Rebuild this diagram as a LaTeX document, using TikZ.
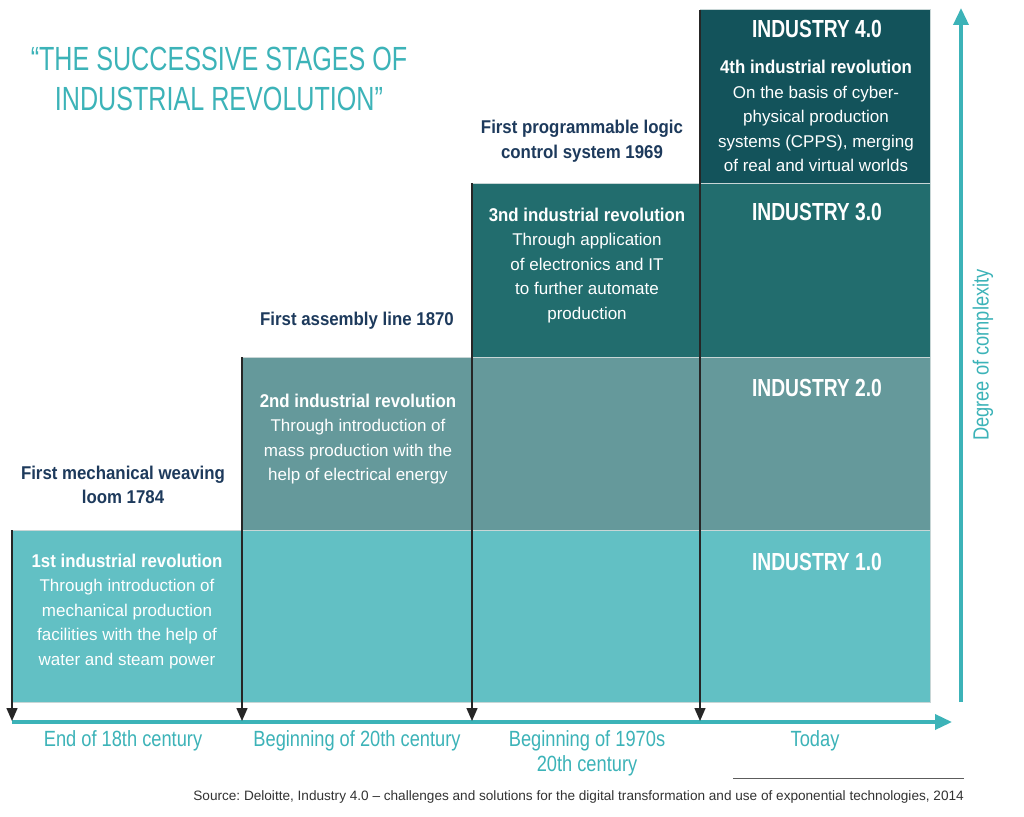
\documentclass[tikz,border=0pt]{standalone}
\usepackage{fontspec}
\setmainfont{Liberation Sans}
\newfontfamily\titlefont[FakeStretch=0.75]{Liberation Sans}
\newfontfamily\indfont[FakeStretch=0.78]{Liberation Sans}
\newfontfamily\headfont[FakeStretch=0.91]{Liberation Sans}
\newfontfamily\axisfont[FakeStretch=0.83]{Liberation Sans}
\usetikzlibrary{arrows.meta}
\definecolor{lvlA}{HTML}{62C0C4}
\definecolor{lvlB}{HTML}{65999B}
\definecolor{lvlC}{HTML}{226D6E}
\definecolor{lvlD}{HTML}{13535B}
\definecolor{bandline}{HTML}{C8D6D6}
\definecolor{teal}{HTML}{3CB3B8}
\definecolor{navy}{HTML}{1D3A5C}
\definecolor{srcgray}{HTML}{333333}
\frenchspacing
\tikzset{
  band/.style={rectangle, draw=bandline, line width=1pt, inner sep=0pt, outer sep=0pt},
  drop/.style={draw=black!85, line width=1.4pt, -{Triangle[width=11pt,length=13pt]}},
  axisarrow/.style={draw=teal, line width=3.5pt, -{Triangle[width=15pt,length=17pt]}},
  indlabel/.style={text=white, font=\indfont\bfseries\fontsize{24.7}{28}\selectfont, inner sep=0pt},
  desc/.style={text=white, align=center, inner sep=0pt, font=\fontsize{17}{24.5}\selectfont},
  milestone/.style={text=navy, align=center, inner sep=0pt, font=\headfont\bfseries\fontsize{18.5}{24.5}\selectfont},
  era/.style={text=teal, align=center, inner sep=0pt, font=\axisfont\fontsize{22}{25}\selectfont},
  titlestyle/.style={text=teal, align=center, inner sep=0pt, font=\titlefont\fontsize{33.5}{40}\selectfont},
}
\newcommand{\hd}[1]{{\headfont\bfseries\fontsize{18.5}{24.5}\selectfont #1}}
\begin{document}
\begin{tikzpicture}[x=1pt,y=-1pt]
\useasboundingbox[fill=white] (0,0) rectangle (1024,816);

% bands
\node[band, fill=lvlA, minimum width=918pt, minimum height=172pt] (b1) at (471,616) {};
\node[band, fill=lvlB, minimum width=688pt, minimum height=173pt] (b2) at (586,443.5) {};
\node[band, fill=lvlC, minimum width=458pt, minimum height=174pt] (b3) at (701,270) {};
\node[band, fill=lvlD, minimum width=230pt, minimum height=173pt] (b4) at (815,96.5) {};

% axes
\coordinate (ax0) at (12,722);
\coordinate (ax1) at (952,722);
\draw[axisarrow] (ax0) -- (ax1);
\coordinate (vy0) at (961,702);
\coordinate (vy1) at (961,8);
\draw[axisarrow] (vy0) -- (vy1);

% drop arrows
\draw[drop] (b1.north west) -- ([yshift=1pt]b1.north west |- ax0);
\draw[drop] (b2.north west) -- ([yshift=1pt]b2.north west |- ax0);
\draw[drop] (b3.north west) -- ([yshift=1pt]b3.north west |- ax0);
\draw[drop] (b4.north west) -- ([yshift=1pt]b4.north west |- ax0);

% title
\node[titlestyle] (title) at (219,79) {“THE SUCCESSIVE STAGES OF\\INDUSTRIAL REVOLUTION”};

% industry labels
\node[indlabel] (i4) at (817,29) {INDUSTRY 4.0};
\node[indlabel] (i3) at (817,212) {INDUSTRY 3.0};
\node[indlabel] (i2) at (817,388) {INDUSTRY 2.0};
\node[indlabel] (i1) at (817,562) {INDUSTRY 1.0};

% descriptions
\node[desc] (d4) at (816,116) {\hd{4th industrial revolution}\\On the basis of cyber-\\physical production\\systems (CPPS), merging\\of real and virtual worlds};
\node[desc] (d3) at (587,265.5) {\hd{3nd industrial revolution}\\Through application\\of electronics and IT\\to further automate\\production};
\node[desc] (d2) at (358,439) {\hd{2nd industrial revolution}\\Through introduction of\\mass production with the\\help of electrical energy};
\node[desc] (d1) at (127,611.5) {\hd{1st industrial revolution}\\Through introduction of\\mechanical production\\facilities with the help of\\water and steam power};

% milestones
\node[milestone] (m1) at (123,485) {First mechanical weaving\\loom 1784};
\node[milestone] (m2) at (357,321) {First assembly line 1870};
\node[milestone] (m3) at (582,141) {First programmable logic\\control system 1969};

% eras
\node[era] (e1) at (123,741) {End of 18th century};
\node[era] (e2) at (357,741) {Beginning of 20th century};
\node[era] (e3) at (587,753.5) {Beginning of 1970s\\20th century};
\node[era] (e4) at (815,741) {Today};

% vertical axis label
\node[era, rotate=90] (deg) at (983,355) {Degree of complexity};

% source
\coordinate (s0) at (733,778);
\coordinate (s1) at (964,778);
\draw[draw=srcgray!80, line width=0.8pt] (s0) -- (s1);
\node[anchor=east, inner sep=0pt, text=srcgray, font=\fontsize{13.6}{15}\selectfont] (src) at (964,797) {Source: Deloitte, Industry 4.0 – challenges and solutions for the digital transformation and use of exponential technologies, 2014};
\end{tikzpicture}
\end{document}
